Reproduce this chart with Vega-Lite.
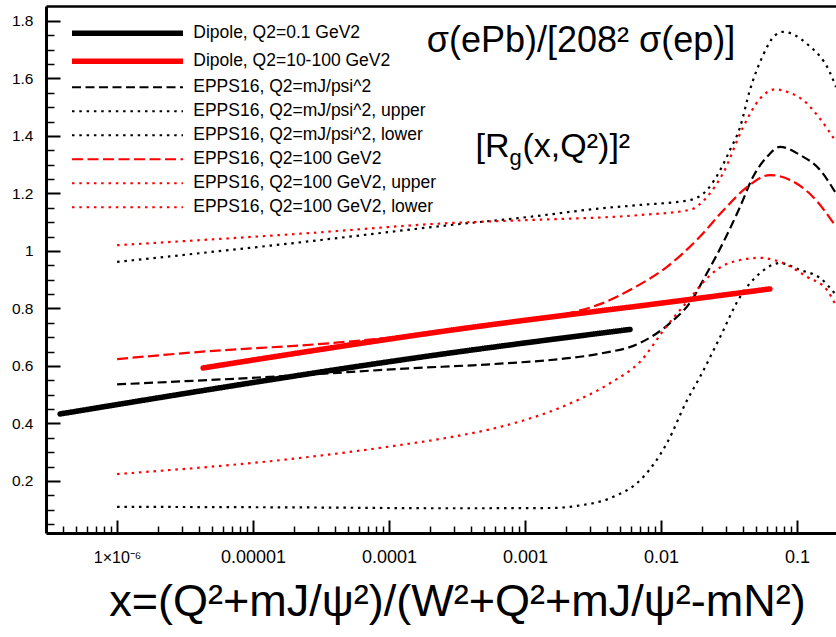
{
  "$schema": "https://vega.github.io/schema/vega-lite/v6.json",
  "width": 790,
  "height": 527,
  "autosize": "none",
  "padding": {"left": 46, "top": 6, "right": 0, "bottom": 104},
  "background": "white",
  "config": {
    "view": {"stroke": null},
    "font": "Liberation Sans",
    "axis": {"labelFont": "Liberation Sans", "titleFont": "Liberation Sans", "labelColor": "#000000", "tickColor": "#000000", "domainColor": "#000000", "grid": false, "titleColor": "#000000"},
    "legend": {"orient": "none", "legendX": 72.75, "legendY": 18.5, "padding": 0, "symbolType": "M-10,0H10", "symbolSize": 123.2, "labelFont": "Liberation Sans", "labelFontSize": 17.5, "labelColor": "#000000", "labelOffset": 57, "rowPadding": 5, "labelLimit": 500, "symbolOpacity": 1}
  },
  "datasets": {
    "dipole": [
      {"series": "Dipole, Q2=0.1 GeV2", "x": 3.81e-7, "y": 0.433},
      {"series": "Dipole, Q2=0.1 GeV2", "x": 2.81e-4, "y": 0.645},
      {"series": "Dipole, Q2=0.1 GeV2", "x": 5.92e-3, "y": 0.727},
      {"series": "Dipole, Q2=10-100 GeV2", "x": 4.29e-6, "y": 0.593},
      {"series": "Dipole, Q2=10-100 GeV2", "x": 2.81e-4, "y": 0.724},
      {"series": "Dipole, Q2=10-100 GeV2", "x": 1.552e-2, "y": 0.83},
      {"series": "Dipole, Q2=10-100 GeV2", "x": 6.32e-2, "y": 0.868}
    ],
    "epps": [
      {"series": "EPPS16, Q2=mJ/psi^2", "x": 1e-6, "y": 0.536},
      {"series": "EPPS16, Q2=mJ/psi^2", "x": 2.22e-5, "y": 0.568},
      {"series": "EPPS16, Q2=mJ/psi^2", "x": 1.205e-4, "y": 0.59},
      {"series": "EPPS16, Q2=mJ/psi^2", "x": 6.55e-4, "y": 0.608},
      {"series": "EPPS16, Q2=mJ/psi^2", "x": 1.807e-3, "y": 0.624},
      {"series": "EPPS16, Q2=mJ/psi^2", "x": 3.56e-3, "y": 0.643},
      {"series": "EPPS16, Q2=mJ/psi^2", "x": 7.02e-3, "y": 0.68},
      {"series": "EPPS16, Q2=mJ/psi^2", "x": 1.164e-2, "y": 0.749},
      {"series": "EPPS16, Q2=mJ/psi^2", "x": 1.633e-2, "y": 0.82},
      {"series": "EPPS16, Q2=mJ/psi^2", "x": 2.178e-2, "y": 0.923},
      {"series": "EPPS16, Q2=mJ/psi^2", "x": 2.857e-2, "y": 1.028},
      {"series": "EPPS16, Q2=mJ/psi^2", "x": 3.81e-2, "y": 1.153},
      {"series": "EPPS16, Q2=mJ/psi^2", "x": 4.745e-2, "y": 1.257},
      {"series": "EPPS16, Q2=mJ/psi^2", "x": 6.01e-2, "y": 1.327},
      {"series": "EPPS16, Q2=mJ/psi^2", "x": 7.5e-2, "y": 1.362},
      {"series": "EPPS16, Q2=mJ/psi^2", "x": 0.1052, "y": 1.334},
      {"series": "EPPS16, Q2=mJ/psi^2", "x": 0.1476, "y": 1.282},
      {"series": "EPPS16, Q2=mJ/psi^2", "x": 0.1936, "y": 1.2},

      {"series": "EPPS16, Q2=mJ/psi^2, upper", "x": 1e-6, "y": 0.962},
      {"series": "EPPS16, Q2=mJ/psi^2, upper", "x": 2.22e-5, "y": 1.03},
      {"series": "EPPS16, Q2=mJ/psi^2, upper", "x": 2.81e-4, "y": 1.09},
      {"series": "EPPS16, Q2=mJ/psi^2, upper", "x": 1.146e-3, "y": 1.12},
      {"series": "EPPS16, Q2=mJ/psi^2, upper", "x": 3.56e-3, "y": 1.148},
      {"series": "EPPS16, Q2=mJ/psi^2, upper", "x": 7.02e-3, "y": 1.16},
      {"series": "EPPS16, Q2=mJ/psi^2, upper", "x": 1.633e-2, "y": 1.177},
      {"series": "EPPS16, Q2=mJ/psi^2, upper", "x": 2.178e-2, "y": 1.212},
      {"series": "EPPS16, Q2=mJ/psi^2, upper", "x": 2.716e-2, "y": 1.28},
      {"series": "EPPS16, Q2=mJ/psi^2, upper", "x": 3.214e-2, "y": 1.351},
      {"series": "EPPS16, Q2=mJ/psi^2, upper", "x": 3.81e-2, "y": 1.43},
      {"series": "EPPS16, Q2=mJ/psi^2, upper", "x": 4.51e-2, "y": 1.56},
      {"series": "EPPS16, Q2=mJ/psi^2, upper", "x": 5.62e-2, "y": 1.68},
      {"series": "EPPS16, Q2=mJ/psi^2, upper", "x": 6.89e-2, "y": 1.75},
      {"series": "EPPS16, Q2=mJ/psi^2, upper", "x": 7.89e-2, "y": 1.762},
      {"series": "EPPS16, Q2=mJ/psi^2, upper", "x": 0.1186, "y": 1.72},
      {"series": "EPPS16, Q2=mJ/psi^2, upper", "x": 0.175, "y": 1.62},
      {"series": "EPPS16, Q2=mJ/psi^2, upper", "x": 0.1936, "y": 1.57},

      {"series": "EPPS16, Q2=mJ/psi^2, lower", "x": 1e-6, "y": 0.11},
      {"series": "EPPS16, Q2=mJ/psi^2, lower", "x": 2.22e-5, "y": 0.108},
      {"series": "EPPS16, Q2=mJ/psi^2, lower", "x": 2.81e-4, "y": 0.105},
      {"series": "EPPS16, Q2=mJ/psi^2, lower", "x": 1.528e-3, "y": 0.106},
      {"series": "EPPS16, Q2=mJ/psi^2, lower", "x": 2.54e-3, "y": 0.115},
      {"series": "EPPS16, Q2=mJ/psi^2, lower", "x": 4.22e-3, "y": 0.14},
      {"series": "EPPS16, Q2=mJ/psi^2, lower", "x": 7.38e-3, "y": 0.213},
      {"series": "EPPS16, Q2=mJ/psi^2, lower", "x": 1.107e-2, "y": 0.332},
      {"series": "EPPS16, Q2=mJ/psi^2, lower", "x": 1.552e-2, "y": 0.48},
      {"series": "EPPS16, Q2=mJ/psi^2, lower", "x": 1.936e-2, "y": 0.562},
      {"series": "EPPS16, Q2=mJ/psi^2, lower", "x": 2.716e-2, "y": 0.7},
      {"series": "EPPS16, Q2=mJ/psi^2, lower", "x": 3.81e-2, "y": 0.84},
      {"series": "EPPS16, Q2=mJ/psi^2, lower", "x": 5.35e-2, "y": 0.923},
      {"series": "EPPS16, Q2=mJ/psi^2, lower", "x": 7.5e-2, "y": 0.958},
      {"series": "EPPS16, Q2=mJ/psi^2, lower", "x": 0.1052, "y": 0.934},
      {"series": "EPPS16, Q2=mJ/psi^2, lower", "x": 0.1476, "y": 0.906},
      {"series": "EPPS16, Q2=mJ/psi^2, lower", "x": 0.1936, "y": 0.847},

      {"series": "EPPS16, Q2=100 GeV2", "x": 1e-6, "y": 0.624},
      {"series": "EPPS16, Q2=100 GeV2", "x": 4.07e-6, "y": 0.649},
      {"series": "EPPS16, Q2=100 GeV2", "x": 3.87e-5, "y": 0.68},
      {"series": "EPPS16, Q2=100 GeV2", "x": 2.81e-4, "y": 0.722},
      {"series": "EPPS16, Q2=100 GeV2", "x": 6.55e-4, "y": 0.744},
      {"series": "EPPS16, Q2=100 GeV2", "x": 1.288e-3, "y": 0.764},
      {"series": "EPPS16, Q2=100 GeV2", "x": 2.04e-3, "y": 0.782},
      {"series": "EPPS16, Q2=100 GeV2", "x": 3.56e-3, "y": 0.815},
      {"series": "EPPS16, Q2=100 GeV2", "x": 6.22e-3, "y": 0.87},
      {"series": "EPPS16, Q2=100 GeV2", "x": 1.107e-2, "y": 0.945},
      {"series": "EPPS16, Q2=100 GeV2", "x": 1.936e-2, "y": 1.05},
      {"series": "EPPS16, Q2=100 GeV2", "x": 2.857e-2, "y": 1.14},
      {"series": "EPPS16, Q2=100 GeV2", "x": 4.285e-2, "y": 1.222},
      {"series": "EPPS16, Q2=100 GeV2", "x": 6.32e-2, "y": 1.264},
      {"series": "EPPS16, Q2=100 GeV2", "x": 8.89e-2, "y": 1.247},
      {"series": "EPPS16, Q2=100 GeV2", "x": 0.1312, "y": 1.188},
      {"series": "EPPS16, Q2=100 GeV2", "x": 0.1936, "y": 1.084},

      {"series": "EPPS16, Q2=100 GeV2, upper", "x": 1e-6, "y": 1.02},
      {"series": "EPPS16, Q2=100 GeV2, upper", "x": 2.22e-5, "y": 1.06},
      {"series": "EPPS16, Q2=100 GeV2, upper", "x": 2.81e-4, "y": 1.097},
      {"series": "EPPS16, Q2=100 GeV2, upper", "x": 1.146e-3, "y": 1.108},
      {"series": "EPPS16, Q2=100 GeV2, upper", "x": 7.02e-3, "y": 1.125},
      {"series": "EPPS16, Q2=100 GeV2, upper", "x": 1.633e-2, "y": 1.143},
      {"series": "EPPS16, Q2=100 GeV2, upper", "x": 2.178e-2, "y": 1.188},
      {"series": "EPPS16, Q2=100 GeV2, upper", "x": 2.857e-2, "y": 1.27},
      {"series": "EPPS16, Q2=100 GeV2, upper", "x": 4.01e-2, "y": 1.43},
      {"series": "EPPS16, Q2=100 GeV2, upper", "x": 5.35e-2, "y": 1.53},
      {"series": "EPPS16, Q2=100 GeV2, upper", "x": 6.89e-2, "y": 1.562},
      {"series": "EPPS16, Q2=100 GeV2, upper", "x": 8.89e-2, "y": 1.55},
      {"series": "EPPS16, Q2=100 GeV2, upper", "x": 0.1107, "y": 1.525},
      {"series": "EPPS16, Q2=100 GeV2, upper", "x": 0.1476, "y": 1.46},
      {"series": "EPPS16, Q2=100 GeV2, upper", "x": 0.1936, "y": 1.38},

      {"series": "EPPS16, Q2=100 GeV2, lower", "x": 1e-6, "y": 0.224},
      {"series": "EPPS16, Q2=100 GeV2, lower", "x": 2.22e-5, "y": 0.28},
      {"series": "EPPS16, Q2=100 GeV2, lower", "x": 1.205e-4, "y": 0.325},
      {"series": "EPPS16, Q2=100 GeV2, lower", "x": 2.81e-4, "y": 0.352},
      {"series": "EPPS16, Q2=100 GeV2, lower", "x": 6.55e-4, "y": 0.388},
      {"series": "EPPS16, Q2=100 GeV2, lower", "x": 2.04e-3, "y": 0.465},
      {"series": "EPPS16, Q2=100 GeV2, lower", "x": 4.22e-3, "y": 0.54},
      {"series": "EPPS16, Q2=100 GeV2, lower", "x": 7.02e-3, "y": 0.615},
      {"series": "EPPS16, Q2=100 GeV2, lower", "x": 1.107e-2, "y": 0.74},
      {"series": "EPPS16, Q2=100 GeV2, lower", "x": 1.633e-2, "y": 0.835},
      {"series": "EPPS16, Q2=100 GeV2, lower", "x": 2.178e-2, "y": 0.905},
      {"series": "EPPS16, Q2=100 GeV2, lower", "x": 3.055e-2, "y": 0.955},
      {"series": "EPPS16, Q2=100 GeV2, lower", "x": 5.35e-2, "y": 0.976},
      {"series": "EPPS16, Q2=100 GeV2, lower", "x": 7.5e-2, "y": 0.962},
      {"series": "EPPS16, Q2=100 GeV2, lower", "x": 0.1186, "y": 0.91},
      {"series": "EPPS16, Q2=100 GeV2, lower", "x": 0.1663, "y": 0.864},
      {"series": "EPPS16, Q2=100 GeV2, lower", "x": 0.1936, "y": 0.81}
    ],
    "titleA": [{"x": 2.58e-3, "y": 1.692, "text": "σ(ePb)/[208² σ(ep)]"}],
    "titleB": [{"x": 7.69e-4, "y": 1.327, "text": "[R"}],
    "titleC": [{"x": 7.69e-4, "y": 1.327, "text": "g"}],
    "titleD": [{"x": 7.69e-4, "y": 1.327, "text": "(x,Q²)]²"}]
  },
  "layer": [
    {
      "data": {"name": "epps"},
      "mark": {"type": "line", "interpolate": "monotone", "clip": true},
      "encoding": {
        "x": {"field": "x", "type": "quantitative", "scale": {"type": "log", "domain": [3.0e-7, 0.1936], "nice": false},
          "axis": {"orient": "bottom", "values": [1e-6, 1e-5, 1e-4, 1e-3, 1e-2, 1e-1], "ticks": false, "domain": true, "domainWidth": 3, "labels": true, "labelFontSize": {"condition": {"test": "datum.value < 2e-6", "value": 16}, "value": 18}, "labelExpr": "datum.value < 2e-6 ? '1×10⁻⁶' : format(datum.value, '~f')", "labelPadding": 29, "labelBaseline": "alphabetic", "labelFlush": false, "labelOverlap": false,
            "title": "x=(Q²+mJ/ψ²)/(W²+Q²+mJ/ψ²-mN²)", "titleFontSize": 45, "titleFontWeight": "normal", "titleBaseline": "alphabetic", "titleAlign": "center", "titleX": 411, "titleY": 82}},
        "y": {"field": "y", "type": "quantitative", "scale": {"domain": [0.019, 1.852], "nice": false, "zero": false},
          "axis": {"orient": "left", "values": [0.2, 0.4, 0.6, 0.8, 1.0, 1.2, 1.4, 1.6, 1.8], "format": ".1~f", "ticks": false, "domain": true, "domainWidth": 3, "labelFontSize": 15.5, "labelPadding": 13, "labelBaseline": "middle", "labelFlush": false, "labelOverlap": false, "title": null}},
        "color": {"field": "series", "type": "nominal", "scale": {"domain": ["Dipole, Q2=0.1 GeV2", "Dipole, Q2=10-100 GeV2", "EPPS16, Q2=mJ/psi^2", "EPPS16, Q2=mJ/psi^2, upper", "EPPS16, Q2=mJ/psi^2, lower", "EPPS16, Q2=100 GeV2", "EPPS16, Q2=100 GeV2, upper", "EPPS16, Q2=100 GeV2, lower"], "range": ["#000000", "#ff0000", "#000000", "#000000", "#000000", "#ff0000", "#ff0000", "#ff0000"]}, "legend": {"title": null}},
        "strokeDash": {"field": "series", "type": "nominal", "scale": {"type": "ordinal", "domain": ["Dipole, Q2=0.1 GeV2", "Dipole, Q2=10-100 GeV2", "EPPS16, Q2=mJ/psi^2", "EPPS16, Q2=mJ/psi^2, upper", "EPPS16, Q2=mJ/psi^2, lower", "EPPS16, Q2=100 GeV2", "EPPS16, Q2=100 GeV2, upper", "EPPS16, Q2=100 GeV2, lower"], "range": [[1, 0], [1, 0], [9, 4.5], [2.5, 4.8], [2.5, 4.8], [11, 4.5], [2.5, 4.8], [2.5, 4.8]]}, "legend": {"title": null}},
        "strokeWidth": {"field": "series", "type": "nominal", "scale": {"type": "ordinal", "domain": ["Dipole, Q2=0.1 GeV2", "Dipole, Q2=10-100 GeV2", "EPPS16, Q2=mJ/psi^2", "EPPS16, Q2=mJ/psi^2, upper", "EPPS16, Q2=mJ/psi^2, lower", "EPPS16, Q2=100 GeV2", "EPPS16, Q2=100 GeV2, upper", "EPPS16, Q2=100 GeV2, lower"], "range": [5.5, 5.5, 2.2, 2.2, 2.2, 2.2, 2.2, 2.2]}, "legend": {"title": null}}
      }
    },
    {
      "data": {"name": "dipole"},
      "mark": {"type": "line", "interpolate": "monotone", "clip": true, "strokeCap": "round"},
      "encoding": {
        "x": {"field": "x", "type": "quantitative", "scale": {"type": "log", "domain": [3.0e-7, 0.1936], "nice": false}, "axis": null},
        "y": {"field": "y", "type": "quantitative", "scale": {"domain": [0.019, 1.852], "nice": false, "zero": false}, "axis": null},
        "color": {"field": "series", "type": "nominal", "scale": {"domain": ["Dipole, Q2=0.1 GeV2", "Dipole, Q2=10-100 GeV2", "EPPS16, Q2=mJ/psi^2", "EPPS16, Q2=mJ/psi^2, upper", "EPPS16, Q2=mJ/psi^2, lower", "EPPS16, Q2=100 GeV2", "EPPS16, Q2=100 GeV2, upper", "EPPS16, Q2=100 GeV2, lower"], "range": ["#000000", "#ff0000", "#000000", "#000000", "#000000", "#ff0000", "#ff0000", "#ff0000"]}, "legend": {"title": null}},
        "strokeDash": {"field": "series", "type": "nominal", "scale": {"type": "ordinal", "domain": ["Dipole, Q2=0.1 GeV2", "Dipole, Q2=10-100 GeV2", "EPPS16, Q2=mJ/psi^2", "EPPS16, Q2=mJ/psi^2, upper", "EPPS16, Q2=mJ/psi^2, lower", "EPPS16, Q2=100 GeV2", "EPPS16, Q2=100 GeV2, upper", "EPPS16, Q2=100 GeV2, lower"], "range": [[1, 0], [1, 0], [9, 4.5], [2.5, 4.8], [2.5, 4.8], [11, 4.5], [2.5, 4.8], [2.5, 4.8]]}, "legend": {"title": null}},
        "strokeWidth": {"field": "series", "type": "nominal", "scale": {"type": "ordinal", "domain": ["Dipole, Q2=0.1 GeV2", "Dipole, Q2=10-100 GeV2", "EPPS16, Q2=mJ/psi^2", "EPPS16, Q2=mJ/psi^2, upper", "EPPS16, Q2=mJ/psi^2, lower", "EPPS16, Q2=100 GeV2", "EPPS16, Q2=100 GeV2, upper", "EPPS16, Q2=100 GeV2, lower"], "range": [5.5, 5.5, 2.2, 2.2, 2.2, 2.2, 2.2, 2.2]}, "legend": {"title": null}}
      }
    },
    {
      "data": {"name": "dipole"},
      "mark": {"type": "point", "opacity": 0},
      "encoding": {
        "x": {"field": "x", "type": "quantitative", "scale": {"type": "log", "domain": [3.0e-7, 0.1936], "nice": false},
          "axis": {"orient": "bottom", "values": [1e-6, 1e-5, 1e-4, 1e-3, 1e-2, 1e-1], "ticks": true, "tickSize": -13, "tickWidth": 2, "labels": false, "domain": false, "title": null}},
        "y": {"field": "y", "type": "quantitative", "scale": {"domain": [0.019, 1.852], "nice": false, "zero": false},
          "axis": {"orient": "left", "values": [0.2, 0.4, 0.6, 0.8, 1.0, 1.2, 1.4, 1.6, 1.8], "ticks": true, "tickSize": -14, "tickWidth": 2, "labels": false, "domain": false, "title": null}}
      }
    },
    {
      "data": {"name": "dipole"},
      "mark": {"type": "point", "opacity": 0},
      "encoding": {
        "x": {"field": "x", "type": "quantitative", "scale": {"type": "log", "domain": [3.0e-7, 0.1936], "nice": false},
          "axis": {"orient": "bottom", "values": [4e-7, 5e-7, 6e-7, 7e-7, 8e-7, 9e-7, 2e-6, 3e-6, 4e-6, 5e-6, 6e-6, 7e-6, 8e-6, 9e-6, 2e-5, 3e-5, 4e-5, 5e-5, 6e-5, 7e-5, 8e-5, 9e-5, 2e-4, 3e-4, 4e-4, 5e-4, 6e-4, 7e-4, 8e-4, 9e-4, 2e-3, 3e-3, 4e-3, 5e-3, 6e-3, 7e-3, 8e-3, 9e-3, 2e-2, 3e-2, 4e-2, 5e-2, 6e-2, 7e-2, 8e-2, 9e-2], "ticks": true, "tickSize": -7, "tickWidth": 1.5, "labels": false, "domain": false, "title": null}},
        "y": {"field": "y", "type": "quantitative", "scale": {"domain": [0.019, 1.852], "nice": false, "zero": false},
          "axis": {"orient": "left", "values": [0.05, 0.1, 0.15, 0.25, 0.3, 0.35, 0.45, 0.5, 0.55, 0.65, 0.7, 0.75, 0.85, 0.9, 0.95, 1.05, 1.1, 1.15, 1.25, 1.3, 1.35, 1.45, 1.5, 1.55, 1.65, 1.7, 1.75], "ticks": true, "tickSize": -8, "tickWidth": 1.5, "labels": false, "domain": false, "title": null}}
      }
    },
    {
      "data": {"name": "dipole"},
      "mark": {"type": "point", "opacity": 0},
      "encoding": {
        "x": {"field": "x", "type": "quantitative", "scale": {"type": "log", "domain": [3.0e-7, 0.1936], "nice": false},
          "axis": {"orient": "top", "ticks": false, "labels": false, "domain": true, "domainWidth": 2.5, "title": null}},
        "y": {"field": "y", "type": "quantitative", "scale": {"domain": [0.019, 1.852], "nice": false, "zero": false}, "axis": null}
      }
    },
    {
      "data": {"name": "titleA"},
      "mark": {"type": "text", "align": "center", "baseline": "alphabetic", "fontSize": 36, "font": "Liberation Sans", "color": "#000000"},
      "encoding": {
        "x": {"field": "x", "type": "quantitative", "scale": {"type": "log", "domain": [3.0e-7, 0.1936], "nice": false}, "axis": null},
        "y": {"field": "y", "type": "quantitative", "scale": {"domain": [0.019, 1.852], "nice": false, "zero": false}, "axis": null},
        "text": {"field": "text"}
      }
    },
    {
      "data": {"name": "titleB"},
      "mark": {"type": "text", "align": "right", "baseline": "alphabetic", "fontSize": 34, "font": "Liberation Sans", "color": "#000000"},
      "encoding": {
        "x": {"field": "x", "type": "quantitative", "scale": {"type": "log", "domain": [3.0e-7, 0.1936], "nice": false}, "axis": null},
        "y": {"field": "y", "type": "quantitative", "scale": {"domain": [0.019, 1.852], "nice": false, "zero": false}, "axis": null},
        "text": {"field": "text"}
      }
    },
    {
      "data": {"name": "titleC"},
      "mark": {"type": "text", "align": "left", "baseline": "alphabetic", "fontSize": 22, "dy": 8, "font": "Liberation Sans", "color": "#000000"},
      "encoding": {
        "x": {"field": "x", "type": "quantitative", "scale": {"type": "log", "domain": [3.0e-7, 0.1936], "nice": false}, "axis": null},
        "y": {"field": "y", "type": "quantitative", "scale": {"domain": [0.019, 1.852], "nice": false, "zero": false}, "axis": null},
        "text": {"field": "text"}
      }
    },
    {
      "data": {"name": "titleD"},
      "mark": {"type": "text", "align": "left", "baseline": "alphabetic", "fontSize": 34, "dx": 13, "font": "Liberation Sans", "color": "#000000"},
      "encoding": {
        "x": {"field": "x", "type": "quantitative", "scale": {"type": "log", "domain": [3.0e-7, 0.1936], "nice": false}, "axis": null},
        "y": {"field": "y", "type": "quantitative", "scale": {"domain": [0.019, 1.852], "nice": false, "zero": false}, "axis": null},
        "text": {"field": "text"}
      }
    }
  ],
  "resolve": {"axis": {"x": "independent", "y": "independent"}}
}
